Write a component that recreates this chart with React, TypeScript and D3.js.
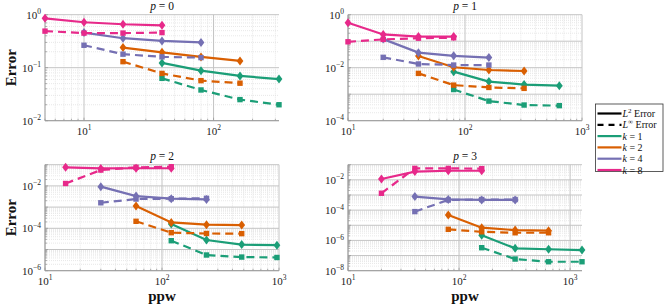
import React from "react";
import * as d3 from "d3";

const kValues = [1, 2, 4, 8];
const kColors = ["#1b9e77", "#d95f02", "#7570b3", "#e7298a"];
const pValues = [0, 1, 2, 3];

// rows: k = 1, 2, 4, 8
const ppwP0 = [[40, 80, 160, 320], [20, 40, 80, 160], [10, 20, 40, 80], [5, 10, 20, 40]];
const l2P0 = [[0.123, 0.088, 0.07, 0.061], [0.24, 0.195, 0.16, 0.134], [0.46, 0.36, 0.32, 0.3], [0.855, 0.72, 0.66, 0.63]];
const linfP0 = [[0.063, 0.038, 0.025, 0.02], [0.13, 0.078, 0.057, 0.051], [0.265, 0.18, 0.16, 0.155], [0.49, 0.45, 0.45, 0.46]];

const ppwP1 = [[80, 160, 320, 640], [40, 80, 160, 320], [20, 40, 80, 160], [10, 20, 40, 80]];
const l2P1 = [[0.0071, 0.003, 0.0023, 0.0021], [0.0276, 0.0104, 0.0082, 0.0075], [0.12, 0.037, 0.028, 0.024], [0.5, 0.18, 0.15, 0.15]];
const linfP1 = [[0.0015, 0.00055, 0.00039, 0.00037], [0.0061, 0.0022, 0.0018, 0.00166], [0.0246, 0.0138, 0.0126, 0.0126], [0.095, 0.117, 0.13, 0.135]];

const ppwP2 = [[120, 240, 480, 960], [60, 120, 240, 480], [30, 60, 120, 240], [15, 30, 60, 120]];
const l2P2 = [[1.6e-4, 2.8e-5, 1.7e-5, 1.6e-5], [1.12e-3, 1.9e-4, 1.48e-4, 1.42e-4], [9.2e-3, 3.3e-3, 2.5e-3, 2.3e-3], [0.075, 0.067, 0.068, 0.068]];
const linfP2 = [[2.6e-5, 5.5e-6, 4.4e-6, 4.2e-6], [2.14e-4, 6.2e-5, 5.7e-5, 5.6e-5], [1.6e-3, 2.4e-3, 2.5e-3, 2.6e-3], [0.013, 0.056, 0.075, 0.08]];

const ppwP3 = [[160, 320, 640, 1280], [80, 160, 320, 640], [40, 80, 160, 320], [20, 40, 80, 160]];
const l2P3 = [[2.2e-6, 3e-7, 2.6e-7, 2.3e-7], [4.7e-5, 6.9e-6, 4.8e-6, 4.4e-6], [7.8e-4, 5.1e-4, 4.7e-4, 4.7e-4], [0.0113, 0.035, 0.04, 0.04]];
const linfP3 = [[3.3e-7, 5.9e-8, 3.9e-8, 3.9e-8], [5.4e-6, 3.7e-6, 3.2e-6, 3.2e-6], [8e-5, 4.7e-4, 5e-4, 5e-4], [0.0013, 0.057, 0.057, 0.055]];

const xTickValues = [[10, 100], [10, 100, 1000], [10, 100, 1000], [10, 100, 1000]];
const yTickValues = [[1, 0.1, 0.01], [1, 0.01, 1e-4], [0.01, 1e-4, 1e-6], [0.01, 1e-4, 1e-6, 1e-8]];
const xDomains = [[5, 320], [10, 1000], [10, 1000], [10, 1280]];
const yDomains = [[1e-2, 1], [1e-4, 1], [1e-6, 1e-1], [1e-8, 1e-1]];

const allPpw = [ppwP0, ppwP1, ppwP2, ppwP3];
const allL2 = [l2P0, l2P1, l2P2, l2P3];
const allLinf = [linfP0, linfP1, linfP2, linfP3];

const FONT = "'Liberation Serif', 'Times New Roman', serif";
const panelW = 234;
const panelH = 106;
const lefts = [45, 348, 45, 348];
const tops = [14.7, 14.7, 164.7, 164.7];

function Pow10({ v, ...rest }: { v: number } & React.SVGProps<SVGTextElement>) {
  const e = Math.round(Math.log10(v));
  return (
    <text {...rest}>
      10
      <tspan dy={-4.5} fontSize={7.5}>{e < 0 ? `\u2212${-e}` : `${e}`}</tspan>
    </text>
  );
}

function gridValues(domain: number[]) {
  const out: { v: number; major: boolean }[] = [];
  const e0 = Math.floor(Math.log10(domain[0]));
  const e1 = Math.ceil(Math.log10(domain[1]));
  for (let e = e0; e <= e1; e++) {
    for (let m = 1; m < 10; m++) {
      const v = m * Math.pow(10, e);
      if (v >= domain[0] * 0.999 && v <= domain[1] * 1.001) out.push({ v, major: m === 1 });
    }
  }
  return out;
}

function Panel({ idx }: { idx: number }) {
  const left = lefts[idx];
  const top = tops[idx];
  const x = d3.scaleLog().domain(xDomains[idx]).range([0, panelW]);
  const y = d3.scaleLog().domain(yDomains[idx]).range([panelH, 0]);
  const line = d3
    .line<[number, number]>()
    .x((d) => x(d[0]))
    .y((d) => y(d[1]));
  const xg = gridValues(xDomains[idx]);
  const yg = gridValues(yDomains[idx]);

  return (
    <g transform={`translate(${left},${top})`}>
      {/* minor grid */}
      {xg.filter((g) => !g.major).map((g, i) => (
        <line key={`xm${i}`} x1={x(g.v)} x2={x(g.v)} y1={0} y2={panelH} stroke="#e2e2e2" strokeWidth={0.8} strokeDasharray="1,1" />
      ))}
      {yg.filter((g) => !g.major).map((g, i) => (
        <line key={`ym${i}`} x1={0} x2={panelW} y1={y(g.v)} y2={y(g.v)} stroke="#e2e2e2" strokeWidth={0.8} strokeDasharray="1,1" />
      ))}
      {/* major grid */}
      {xg.filter((g) => g.major).map((g, i) => (
        <line key={`xM${i}`} x1={x(g.v)} x2={x(g.v)} y1={0} y2={panelH} stroke="#c4c4c4" strokeWidth={1} />
      ))}
      {yg.filter((g) => g.major).map((g, i) => (
        <line key={`yM${i}`} x1={0} x2={panelW} y1={y(g.v)} y2={y(g.v)} stroke="#c4c4c4" strokeWidth={1} />
      ))}
      {/* axis lines and ticks */}
      <line x1={0} x2={panelW} y1={panelH} y2={panelH} stroke="#9a9a9a" strokeWidth={1} />
      <line x1={0} x2={0} y1={0} y2={panelH} stroke="#9a9a9a" strokeWidth={1} />
      {xg.map((g, i) => (
        <line key={`xt${i}`} x1={x(g.v)} x2={x(g.v)} y1={panelH} y2={panelH - (g.major ? 3 : 2)} stroke="#9a9a9a" strokeWidth={0.8} />
      ))}
      {yg.map((g, i) => (
        <line key={`yt${i}`} x1={0} x2={g.major ? 3 : 2} y1={y(g.v)} y2={y(g.v)} stroke="#9a9a9a" strokeWidth={0.8} />
      ))}
      {/* tick labels */}
      {xTickValues[idx].map((v) => (
        <Pow10 key={`xl${v}`} v={v} x={x(v)} y={panelH + 14} textAnchor="middle" fontSize={11} fontFamily={FONT} fill="#222" />
      ))}
      {yTickValues[idx].map((v) => (
        <Pow10 key={`yl${v}`} v={v} x={-4} y={y(v) + 4} textAnchor="end" fontSize={11} fontFamily={FONT} fill="#222" />
      ))}
      {/* title */}
      <text x={panelW / 2} y={-5} textAnchor="middle" fontSize={11.5} fontFamily={FONT} fill="#111">
        <tspan fontStyle="italic">p</tspan> = {pValues[idx]}
      </text>
      {/* series */}
      {kValues.map((k, ki) => {
        const ppw = allPpw[idx][ki];
        const l2 = allL2[idx][ki];
        const linf = allLinf[idx][ki];
        const l2pts = ppw.map((p, j) => [p, l2[j]] as [number, number]);
        const lipts = ppw.map((p, j) => [p, linf[j]] as [number, number]);
        const c = kColors[ki];
        return (
          <g key={`k${k}`}>
            <path d={line(lipts) || ""} fill="none" stroke={c} strokeWidth={2.2} strokeDasharray="8,5" />
            {lipts.map((d, j) => (
              <rect key={`s${j}`} x={x(d[0]) - 2.7} y={y(d[1]) - 2.7} width={5.4} height={5.4} fill={c} />
            ))}
            <path d={line(l2pts) || ""} fill="none" stroke={c} strokeWidth={2.2} />
            {l2pts.map((d, j) => (
              <path key={`d${j}`} transform={`translate(${x(d[0])},${y(d[1])})`} d="M0,-4.5L3.4,0L0,4.5L-3.4,0Z" fill={c} />
            ))}
          </g>
        );
      })}
    </g>
  );
}

const legendItems = [
  { label: "L2", color: "#000", dash: "" },
  { label: "Linf", color: "#000", dash: "6,5" },
  ...kValues.map((k, i) => ({ label: `k${k}`, color: kColors[i], dash: "" })),
];

function Legend() {
  const lx = 595.5;
  const ly = 104;
  return (
    <g>
      <rect x={lx} y={ly} width={67.5} height={67.5} fill="#fff" stroke="#333" strokeWidth={0.8} />
      {legendItems.map((it, i) => {
        const yy = ly + 9.5 + i * 11.3;
        const k = kValues[i - 2];
        return (
          <g key={it.label}>
            <line x1={lx + 2} x2={lx + 26} y1={yy} y2={yy} stroke={it.color} strokeWidth={2.2} strokeDasharray={it.dash} />
            <text x={lx + 27} y={yy + 3.5} fontSize={10} fontFamily={FONT} fill="#111">
              {i === 0 && (
                <>
                  <tspan fontStyle="italic">L</tspan>
                  <tspan dy={-4} fontSize={7}>2</tspan>
                  <tspan dy={4}> Error</tspan>
                </>
              )}
              {i === 1 && (
                <>
                  <tspan fontStyle="italic">L</tspan>
                  <tspan dy={-4} fontSize={7}>∞</tspan>
                  <tspan dy={4}> Error</tspan>
                </>
              )}
              {i >= 2 && (
                <>
                  <tspan fontStyle="italic">k</tspan> = {k}
                </>
              )}
            </text>
          </g>
        );
      })}
    </g>
  );
}

export default function App() {
  return (
    <svg width={664} height={305} style={{ position: "absolute", left: 0, top: 0, background: "#fff" }}>
      {pValues.map((p, i) => (
        <Panel key={p} idx={i} />
      ))}
      <text transform="translate(16,67.7) rotate(-90)" textAnchor="middle" fontSize={15} fontWeight="bold" fontFamily={FONT} fill="#111">Error</text>
      <text transform="translate(16,217.7) rotate(-90)" textAnchor="middle" fontSize={15} fontWeight="bold" fontFamily={FONT} fill="#111">Error</text>
      <text x={162} y={301} textAnchor="middle" fontSize={15} fontWeight="bold" fontFamily={FONT} fill="#111">ppw</text>
      <text x={465} y={301} textAnchor="middle" fontSize={15} fontWeight="bold" fontFamily={FONT} fill="#111">ppw</text>
      <Legend />
    </svg>
  );
}
